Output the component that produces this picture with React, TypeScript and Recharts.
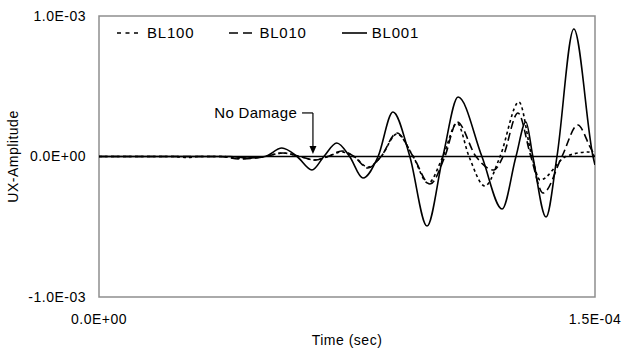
import React from 'react';
import {
  LineChart,
  Line,
  XAxis,
  YAxis,
  ReferenceLine,
  ReferenceArea,
  ReferenceDot,
  Legend,
} from 'recharts';

// time in microseconds, amplitude in units of 1e-3
const timeBL001 = [0, 39.6, 44.8, 50.2, 55.3, 59.9, 64.4, 68.0, 71.9, 75.8, 79.8, 84.4, 88.9, 94.0, 99.2, 104.0, 108.6, 115.8, 121.9, 126.1, 129.1, 131.2, 135.2, 138.5, 143.6, 149.4, 150.0];
const ampBL001 = [0, 0, -0.011, 0, 0.06, 0, -0.096, 0, 0.096, 0, -0.153, 0, 0.317, 0, -0.495, 0, 0.423, 0, -0.374, 0, 0.246, 0, -0.431, 0, 0.907, 0, -0.06];

const timeBL010 = [0, 36.6, 42.6, 50.2, 55.6, 60.8, 65.3, 69.2, 73.5, 77.1, 81.3, 85.3, 90.1, 95.0, 100.1, 104.6, 108.3, 114.0, 119.4, 122.2, 126.7, 130.6, 134.3, 140.0, 144.8, 148.5, 150.0];
const ampBL010 = [0, 0, -0.018, 0, 0.025, 0, -0.025, 0, 0.039, 0, -0.082, 0, 0.167, 0, -0.196, 0, 0.246, 0, -0.096, 0, 0.31, 0, -0.26, 0, 0.224, 0.068, 0];

const timeBL100 = [0, 23.0, 26.3, 30.5, 37.2, 42.6, 50.2, 55.6, 60.8, 65.3, 69.2, 73.5, 77.1, 81.3, 85.3, 90.1, 95.0, 99.5, 104.0, 108.3, 111.9, 116.7, 121.3, 127.0, 130.9, 133.4, 141.2, 147.9, 150.0];
const ampBL100 = [0, 0, -0.007, 0, 0, -0.014, 0, 0.025, 0, -0.025, 0, 0.032, 0, -0.075, 0, 0.16, 0, -0.19, 0, 0.238, 0, -0.21, 0, 0.388, 0, -0.167, 0, 0.032, 0];

const xTicks = [0, 1.5e-4];
const yTicks = [-1e-3, 0, 1e-3];

// annotation anchor points (time µs, amplitude 1e-3)
const noteText = { t: 59.9, a: 0.31 };
const noteElbow = { t1: 61.4, t2: 64.7, a: 0.31 };
const noteArrowTip = { t: 64.7, a: 0.018 };

const build = (ts: number[], vs: number[]) =>
  ts.map((t, i) => ({ t: t * 1e-6, v: vs[i] * 1e-3 }));

const d001 = build(timeBL001, ampBL001);
const d010 = build(timeBL010, ampBL010);
const d100 = build(timeBL100, ampBL100);

const fmt = (v: number) => {
  if (v === 0) return '0.0E+00';
  const [m, e] = v.toExponential(1).split('e');
  const n = parseInt(e, 10);
  return `${m}E${n < 0 ? '-' : '+'}${String(Math.abs(n)).padStart(2, '0')}`;
};

const FONT = '"Liberation Sans", Arial, sans-serif';

const series = [
  { name: 'BL100', dash: '4 4.5' },
  { name: 'BL010', dash: '9 5' },
  { name: 'BL001', dash: undefined as string | undefined },
];

const LegendContent = () => (
  <div style={{ display: 'flex', gap: 35, fontFamily: FONT, fontSize: 15, letterSpacing: 0.8, color: '#000' }}>
    {series.map((s) => (
      <div key={s.name} style={{ display: 'flex', alignItems: 'center' }}>
        <svg width={25} height={10} style={{ marginRight: 5 }}>
          <line x1={0} y1={5} x2={25} y2={5} stroke="#000" strokeWidth={1.6} strokeDasharray={s.dash} />
        </svg>
        <span>{s.name}</span>
      </div>
    ))}
  </div>
);

export default function App() {
  return (
    <div style={{ width: 626, height: 351, background: '#fff' }}>
      <style>{`body{margin:0;background:#fff}`}</style>
      <LineChart width={626} height={351} margin={{ top: 16, right: 31, bottom: 1, left: 0 }}>
        <XAxis
          type="number"
          dataKey="t"
          domain={[0, 1.5e-4]}
          ticks={xTicks}
          tickFormatter={fmt}
          axisLine={false}
          tickLine={false}
          tickSize={6}
          tickMargin={11}
          height={53}
          allowDataOverflow
          tick={{ fill: '#000', fontSize: 14, fontFamily: FONT, letterSpacing: 0.5 }}
          label={{ value: 'Time (sec)', position: 'center', dy: 17, fill: '#000', fontSize: 14, fontFamily: FONT, letterSpacing: 0.5 }}
        />
        <YAxis
          type="number"
          domain={[-1e-3, 1e-3]}
          ticks={yTicks}
          tickFormatter={fmt}
          axisLine={false}
          tickLine={false}
          tickSize={6}
          tickMargin={7}
          width={99}
          allowDataOverflow
          tick={{ fill: '#000', fontSize: 14, fontFamily: FONT, letterSpacing: 0.5 }}
          label={{ value: 'UX-Amplitude', angle: -90, position: 'center', dx: -36, fill: '#000', fontSize: 14, fontFamily: FONT, letterSpacing: 0.5 }}
        />
        <ReferenceArea x1={0} x2={1.5e-4} y1={-1e-3} y2={1e-3} fill="none" stroke="#8e8e8e" strokeWidth={1.5} />
        <ReferenceLine y={0} stroke="#000" strokeWidth={1.5} />
        <Line data={d100} dataKey="v" name="BL100" type="monotone" dot={false} stroke="#000" strokeWidth={1.6} strokeDasharray="3 3" isAnimationActive={false} />
        <Line data={d010} dataKey="v" name="BL010" type="monotone" dot={false} stroke="#000" strokeWidth={1.6} strokeDasharray="8 4" isAnimationActive={false} />
        <Line data={d001} dataKey="v" name="BL001" type="monotone" dot={false} stroke="#000" strokeWidth={1.6} isAnimationActive={false} />
        <ReferenceLine
          segment={[{ x: noteElbow.t1 * 1e-6, y: noteElbow.a * 1e-3 }, { x: noteElbow.t2 * 1e-6, y: noteElbow.a * 1e-3 }]}
          stroke="#000"
          strokeWidth={1.2}
        />
        <ReferenceLine
          segment={[{ x: noteElbow.t2 * 1e-6, y: noteElbow.a * 1e-3 }, { x: noteArrowTip.t * 1e-6, y: noteArrowTip.a * 1e-3 + 0.04e-3 }]}
          stroke="#000"
          strokeWidth={1.2}
        />
        <ReferenceDot
          x={noteArrowTip.t * 1e-6}
          y={noteArrowTip.a * 1e-3}
          r={0}
          shape={(p: any) => (
            <polygon points={`${p.cx - 3.5},${p.cy - 8} ${p.cx + 3.5},${p.cy - 8} ${p.cx},${p.cy}`} fill="#000" />
          )}
        />
        <ReferenceDot
          x={noteText.t * 1e-6}
          y={noteText.a * 1e-3}
          r={0}
          shape={(p: any) => (
            <text x={p.cx} y={p.cy} textAnchor="end" dominantBaseline="central" fontFamily={FONT} fontSize={15} letterSpacing={0.3} fill="#000">
              No Damage
            </text>
          )}
        />
        <Legend
          layout="horizontal"
          verticalAlign="middle"
          align="center"
          content={<LegendContent />}
          wrapperStyle={{ top: 24, left: 117, width: 'auto', height: 20 }}
        />
      </LineChart>
    </div>
  );
}
